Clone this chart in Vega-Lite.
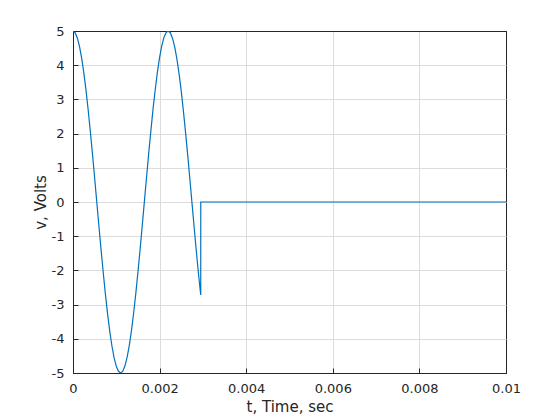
{
  "$schema": "https://vega.github.io/schema/vega-lite/v6.json",
  "autosize": "none",
  "width": 433,
  "height": 342,
  "padding": {"left": 73, "top": 31, "right": 54, "bottom": 47},
  "background": "white",
  "config": {
    "font": "DejaVu Sans",
    "view": {"stroke": "#262626", "strokeWidth": 1},
    "axis": {
      "domainColor": "#262626",
      "tickColor": "#262626",
      "labelColor": "#262626",
      "titleColor": "#262626",
      "labelFont": "DejaVu Sans",
      "titleFont": "DejaVu Sans",
      "labelFontSize": 13,
      "titleFontSize": 15,
      "titleFontWeight": "normal",
      "gridWidth": 1,
      "tickSize": -5,
      "labelPadding": 14,
      "labelFlush": false
    }
  },
  "data": {
    "values": [
      {"t": 0, "v": 5},
      {"t": 0.00005, "v": 4.949},
      {"t": 0.0001, "v": 4.797},
      {"t": 0.00015, "v": 4.547},
      {"t": 0.0002, "v": 4.204},
      {"t": 0.00025, "v": 3.776},
      {"t": 0.0003, "v": 3.27},
      {"t": 0.00035, "v": 2.697},
      {"t": 0.0004, "v": 2.066},
      {"t": 0.00045, "v": 1.4},
      {"t": 0.0005, "v": 0.702},
      {"t": 0.00055, "v": -0.011},
      {"t": 0.0006, "v": -0.724},
      {"t": 0.00065, "v": -1.421},
      {"t": 0.0007, "v": -2.084},
      {"t": 0.00075, "v": -2.717},
      {"t": 0.0008, "v": -3.284},
      {"t": 0.00085, "v": -3.791},
      {"t": 0.0009, "v": -4.218},
      {"t": 0.00095, "v": -4.558},
      {"t": 0.001, "v": -4.805},
      {"t": 0.00105, "v": -4.951},
      {"t": 0.0011, "v": -5},
      {"t": 0.00115, "v": -4.946},
      {"t": 0.0012, "v": -4.789},
      {"t": 0.00125, "v": -4.536},
      {"t": 0.0013, "v": -4.191},
      {"t": 0.00135, "v": -3.76},
      {"t": 0.0014, "v": -3.254},
      {"t": 0.00145, "v": -2.678},
      {"t": 0.0015, "v": -2.047},
      {"t": 0.00155, "v": -1.378},
      {"t": 0.0016, "v": -0.68},
      {"t": 0.00165, "v": 0.033},
      {"t": 0.0017, "v": 0.746},
      {"t": 0.00175, "v": 1.443},
      {"t": 0.0018, "v": 2.103},
      {"t": 0.00185, "v": 2.736},
      {"t": 0.0019, "v": 3.298},
      {"t": 0.00195, "v": 3.806},
      {"t": 0.002, "v": 4.231},
      {"t": 0.00205, "v": 4.566},
      {"t": 0.0021, "v": 4.812},
      {"t": 0.00215, "v": 4.955},
      {"t": 0.0022, "v": 5},
      {"t": 0.00225, "v": 4.943},
      {"t": 0.0023, "v": 4.782},
      {"t": 0.00235, "v": 4.526},
      {"t": 0.0024, "v": 4.178},
      {"t": 0.00245, "v": 3.745},
      {"t": 0.0025, "v": 3.24},
      {"t": 0.00255, "v": 2.658},
      {"t": 0.0026, "v": 2.029},
      {"t": 0.00265, "v": 1.357},
      {"t": 0.0027, "v": 0.658},
      {"t": 0.00275, "v": -0.055},
      {"t": 0.0028, "v": -0.768},
      {"t": 0.00285, "v": -1.464},
      {"t": 0.0029, "v": -2.121},
      {"t": 0.00295, "v": -2.72},
      {"t": 0.002951, "v": 0},
      {"t": 0.01, "v": 0}
    ]
  },
  "mark": {"type": "line", "color": "#0072BD", "strokeWidth": 1.2, "clip": true},
  "encoding": {
    "x": {
      "field": "t",
      "type": "quantitative",
      "scale": {"domain": [0, 0.01], "nice": false, "zero": false},
      "axis": {
        "title": "t, Time, sec",
        "values": [0, 0.002, 0.004, 0.006, 0.008, 0.01],
        "labelExpr": "toString(datum.value)",
        "gridColor": {"condition": {"test": "datum.value >= 0.0099", "value": "#262626"}, "value": "#dcdcdc"},
        "titlePadding": 4
      }
    },
    "y": {
      "field": "v",
      "type": "quantitative",
      "scale": {"domain": [-5, 5], "nice": false},
      "axis": {
        "title": "v, Volts",
        "values": [-5, -4, -3, -2, -1, 0, 1, 2, 3, 4, 5],
        "labelExpr": "toString(datum.value)",
        "gridColor": {"condition": {"test": "datum.value == 5 || datum.value == -5", "value": "#262626"}, "value": "#dcdcdc"},
        "titlePadding": 3
      }
    }
  }
}
